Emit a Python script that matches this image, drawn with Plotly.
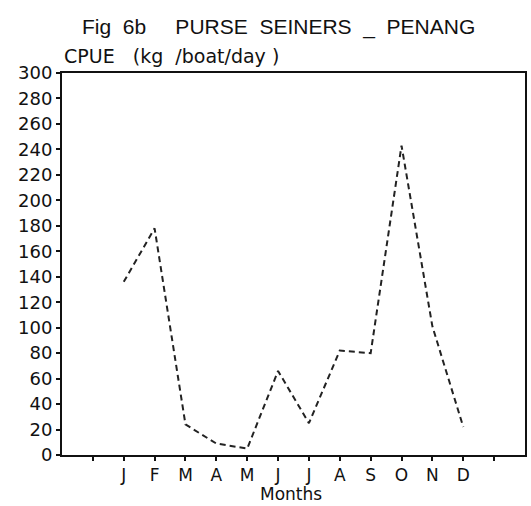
import plotly.graph_objects as go

months = ["J", "F", "M", "A", "M", "J", "J", "A", "S", "O", "N", "D"]
cpue = [136, 178, 24, 9, 5, 66, 25, 82, 80, 243, 101, 22]
y_ticks = list(range(0, 301, 20))

x_pos = [i + 2 for i in range(len(months))]
tick_pos = list(range(1, 15))
tick_text = [""] + months + [""]

fig = go.Figure()
fig.add_trace(go.Scatter(
    x=x_pos, y=cpue, mode="lines",
    line=dict(color="#222", width=2, dash="6px,4px"),
    showlegend=False,
))

fig.update_layout(
    width=531, height=506,
    margin=dict(l=62, r=4, t=73, b=51),
    paper_bgcolor="white", plot_bgcolor="white",
    xaxis=dict(
        range=[0, 15], tickvals=tick_pos, ticktext=tick_text,
        showgrid=False, zeroline=False, showline=True, linecolor="#111",
        linewidth=2, mirror=True, ticks="outside", ticklen=4, tickwidth=1.5,
        tickcolor="#111", tickfont=dict(family="DejaVu Sans", size=17, color="#111"),
    ),
    yaxis=dict(
        range=[0, 300], tickvals=y_ticks,
        showgrid=False, zeroline=False, showline=True, linecolor="#111",
        linewidth=2, mirror=True, ticks="outside", ticklen=4, tickwidth=1.5,
        tickcolor="#111", tickfont=dict(family="DejaVu Sans", size=18, color="#111"),
    ),
    annotations=[
        dict(text="Fig&nbsp; 6b&nbsp;&nbsp;&nbsp;&nbsp; PURSE&nbsp; SEINERS&nbsp; _&nbsp; PENANG",
             x=(279 - 62) / 465, y=1.0, yanchor="middle", yshift=46,
             xref="paper", yref="paper", showarrow=False,
             font=dict(family="Liberation Sans", size=21, color="#111")),
        dict(text="CPUE&nbsp;&nbsp; (kg&nbsp; /boat/day )", x=0.0, xanchor="left", y=1.0, yanchor="middle", yshift=17,
             xref="paper", yref="paper", showarrow=False,
             font=dict(family="DejaVu Sans", size=19, color="#111")),
        dict(text="Months", x=(292 - 62) / 465, y=0.0, yanchor="bottom", yshift=-51,
             xref="paper", yref="paper", showarrow=False,
             font=dict(family="DejaVu Sans", size=17, color="#111")),
    ],
)

fig.write_html("out.html")
